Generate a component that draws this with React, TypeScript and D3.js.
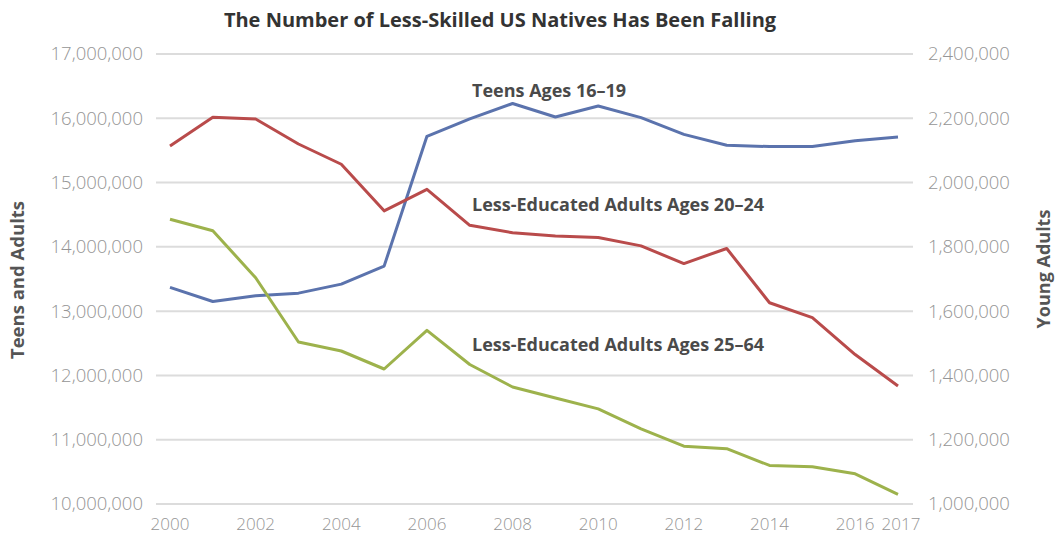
import React from "react";
import * as d3 from "d3";

const years = [2000, 2001, 2002, 2003, 2004, 2005, 2006, 2007, 2008, 2009, 2010, 2011, 2012, 2013, 2014, 2015, 2016, 2017];
const teens = [13.37, 13.15, 13.24, 13.28, 13.42, 13.7, 15.72, 15.99, 16.23, 16.02, 16.19, 16.01, 15.75, 15.58, 15.56, 15.56, 15.65, 15.71].map(v => v * 1e6);
const adults2564 = [14.43, 14.25, 13.52, 12.52, 12.38, 12.1, 12.7, 12.17, 11.82, 11.65, 11.48, 11.17, 10.9, 10.86, 10.6, 10.58, 10.47, 10.15].map(v => v * 1e6);
const adults2024 = [2.114, 2.203, 2.198, 2.12, 2.057, 1.912, 1.979, 1.867, 1.844, 1.834, 1.829, 1.803, 1.748, 1.795, 1.626, 1.58, 1.465, 1.367].map(v => v * 1e6);
const leftTicks = [10e6, 11e6, 12e6, 13e6, 14e6, 15e6, 16e6, 17e6];
const rightTicks = [1.0e6, 1.2e6, 1.4e6, 1.6e6, 1.8e6, 2.0e6, 2.2e6, 2.4e6];
const xTicks = [2000, 2002, 2004, 2006, 2008, 2010, 2012, 2014, 2016, 2017];

const W = 1056, H = 534;
const FONT = "'Open Sans', 'Noto Sans', sans-serif";

export default function App() {
  const x = d3.scaleLinear().domain([2000, 2017]).range([170, 898]);
  const yL = d3.scaleLinear().domain([10e6, 17e6]).range([504, 54]);
  const yR = d3.scaleLinear().domain([1.0e6, 2.4e6]).range([504, 54]);
  const fmt = d3.format(",");
  const lineL = d3.line<number>().x((_, i) => x(years[i])).y(d => yL(d));
  const lineR = d3.line<number>().x((_, i) => x(years[i])).y(d => yR(d));

  return (
    <svg width={W} height={H} style={{ position: "absolute", left: 0, top: 0, background: "#fff" }} fontFamily={FONT}>
      <rect width={W} height={H} fill="#fff" />
      <text x={500} y={27} textAnchor="middle" fontSize={20} fontWeight={700} fill="#333">
        The Number of Less-Skilled US Natives Has Been Falling
      </text>
      {leftTicks.map(t => (
        <line key={t} x1={156} x2={913} y1={yL(t)} y2={yL(t)} stroke="#dcdcdc" strokeWidth={2} />
      ))}
      {leftTicks.map(t => (
        <text key={t} x={143} y={yL(t)} dy="0.35em" textAnchor="end" fontSize={18.5} fontWeight={300} fill="#959595">
          {fmt(t)}
        </text>
      ))}
      {rightTicks.map(t => (
        <text key={t} x={928} y={yR(t)} dy="0.35em" textAnchor="start" fontSize={18.5} fontWeight={300} fill="#959595">
          {fmt(t)}
        </text>
      ))}
      {xTicks.map(t => (
        <text key={t} x={x(t) + (t === 2017 ? 3 : 0)} y={524} dy="0.35em" textAnchor="middle" fontSize={17} fontWeight={300} fill="#959595">
          {t}
        </text>
      ))}
      <text transform="translate(24,280) rotate(-90)" textAnchor="middle" fontSize={18.5} fontWeight={700} fill="#555">
        Teens and Adults
      </text>
      <text transform="translate(1050,269) rotate(-90)" textAnchor="middle" fontSize={18} fontWeight={700} fill="#555">
        Young Adults
      </text>
      <path d={lineL(teens) || ""} fill="none" stroke="#5b73ad" strokeWidth={3} strokeLinejoin="round" />
      <path d={lineR(adults2024) || ""} fill="none" stroke="#b94b4b" strokeWidth={3} strokeLinejoin="round" />
      <path d={lineL(adults2564) || ""} fill="none" stroke="#9db24c" strokeWidth={3} strokeLinejoin="round" />
      <text x={472} y={97} fontSize={18} fontWeight={700} fill="#4a4a4a">Teens Ages 16–19</text>
      <text x={472} y={211} fontSize={18} fontWeight={700} fill="#4a4a4a">Less-Educated Adults Ages 20–24</text>
      <text x={472} y={351} fontSize={18} fontWeight={700} fill="#4a4a4a">Less-Educated Adults Ages 25–64</text>
    </svg>
  );
}
